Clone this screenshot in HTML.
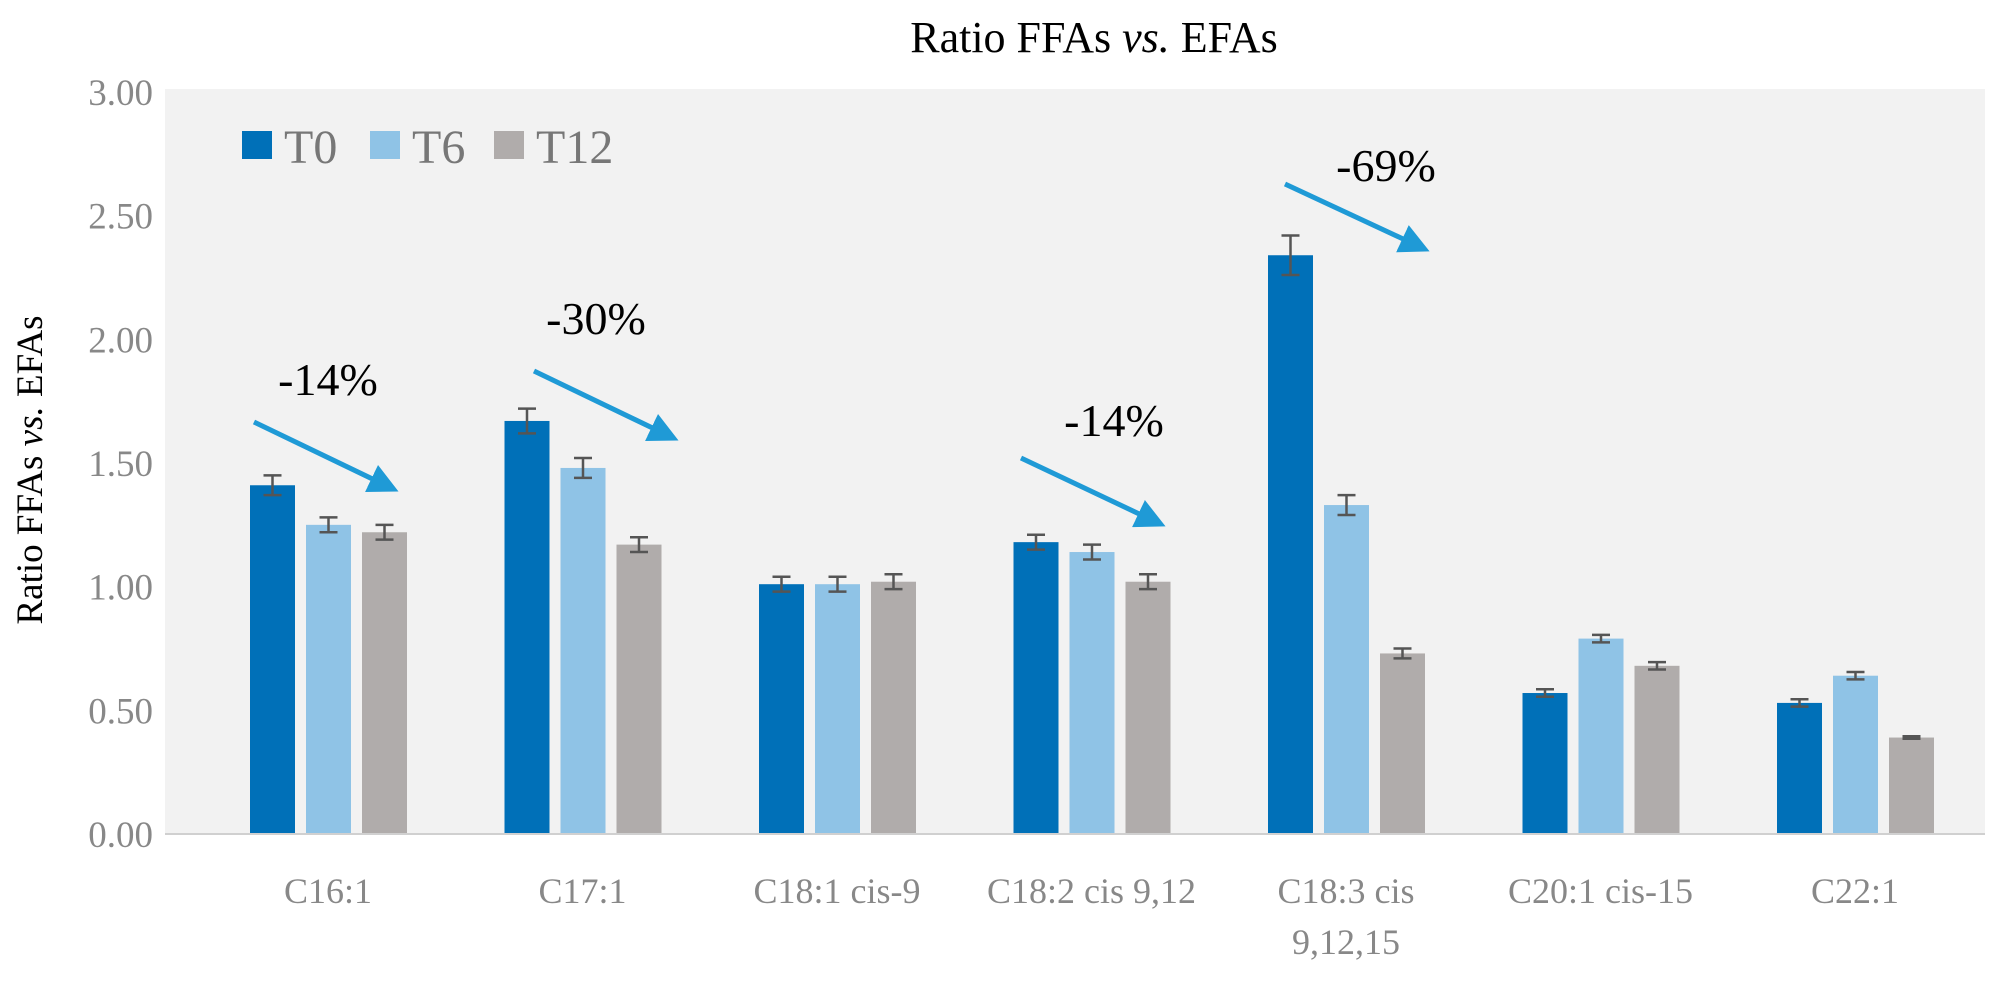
<!DOCTYPE html>
<html><head><meta charset="utf-8"><style>
body{margin:0;background:#fff;}
svg{display:block;font-family:"Liberation Serif",serif;}
</style></head><body>
<svg id="chart" width="1997" height="981" xmlns="http://www.w3.org/2000/svg">
<defs><marker id="ah" markerWidth="6" markerHeight="6" refX="3" refY="3" orient="auto" markerUnits="strokeWidth"><path d="M0,0 L6,3 L0,6 z" fill="#1f9ad6"/></marker></defs>
<rect x="165" y="89" width="1820" height="744" fill="#f2f2f2"/>
<text x="1094" y="52" font-size="44" text-anchor="middle" fill="#000">Ratio FFAs <tspan font-style="italic">vs.</tspan> EFAs</text>
<text transform="translate(42,470) rotate(-90)" font-size="37" text-anchor="middle" fill="#000">Ratio FFAs <tspan font-style="italic">vs.</tspan> EFAs</text>
<g id="yticks"></g><g id="bars"></g><g id="xlabels"></g>
<line x1="165" y1="834" x2="1985" y2="834" stroke="#d0d0d0" stroke-width="2"/>
<g>
<rect x="242" y="131" width="30" height="28" fill="#0070b8"/>
<text x="284" y="163" font-size="48" fill="#777">T0</text>
<rect x="370" y="131" width="30" height="28" fill="#8fc3e6"/>
<text x="412" y="163" font-size="48" fill="#777">T6</text>
<rect x="494" y="131" width="30" height="28" fill="#b0acab"/>
<text x="536" y="163" font-size="48" fill="#777">T12</text>
</g>
<g fill="#000" font-size="46" text-anchor="middle">
<line x1="254" y1="422" x2="385" y2="485" stroke="#1f9ad6" stroke-width="5" marker-end="url(#ah)"/>
<text x="328" y="395">-14%</text>
<line x1="534" y1="371" x2="665" y2="434" stroke="#1f9ad6" stroke-width="5" marker-end="url(#ah)"/>
<text x="596" y="334">-30%</text>
<line x1="1021" y1="458" x2="1152" y2="520" stroke="#1f9ad6" stroke-width="5" marker-end="url(#ah)"/>
<text x="1114" y="436">-14%</text>
<line x1="1285" y1="184" x2="1416" y2="245" stroke="#1f9ad6" stroke-width="5" marker-end="url(#ah)"/>
<text x="1386" y="181">-69%</text>
</g>
</svg>
<script>
const categories=[["C16:1"],["C17:1"],["C18:1 cis-9"],["C18:2 cis 9,12"],["C18:3 cis","9,12,15"],["C20:1 cis-15"],["C22:1"]];
const t0=[1.41,1.67,1.01,1.18,2.34,0.57,0.53];
const t6=[1.25,1.48,1.01,1.14,1.33,0.79,0.64];
const t12=[1.22,1.17,1.02,1.02,0.73,0.68,0.39];
const t0Err=[0.04,0.05,0.03,0.03,0.08,0.015,0.015];
const t6Err=[0.03,0.04,0.03,0.03,0.04,0.015,0.015];
const t12Err=[0.03,0.03,0.03,0.03,0.02,0.015,0.005];
const yTicks=["0.00","0.50","1.00","1.50","2.00","2.50","3.00"];
const NS="http://www.w3.org/2000/svg";
const y0=834,yTop=92,yMax=3;
function y(v){return y0-(v/yMax)*(y0-yTop);}
function xc(i){return 328+i*254.5;}
function mk(t,a,p){const e=document.createElementNS(NS,t);for(const k in a)e.setAttribute(k,a[k]);p.appendChild(e);return e;}
const yt=document.getElementById('yticks');
yTicks.forEach(t=>{const e=mk('text',{x:153,y:y(parseFloat(t))+13,'font-size':37,'text-anchor':'end',fill:'#888'},yt);


e.textContent=t;});
const bg=document.getElementById('bars');
const series=[[t0,t0Err,'#0070b8',-78,'t0'],[t6,t6Err,'#8fc3e6',-22,'t6'],[t12,t12Err,'#b0acab',34,'t12']];
categories.forEach((c,i)=>{
 series.forEach(s=>{
  const v=s[0][i],er=s[1][i],x=xc(i)+s[3],w=45;
  const r=mk('rect',{x:x,y:y(v),width:w,height:y0-y(v),fill:s[2]},bg);
  
  
  const cx=x+w/2;
  const g=mk('g',{stroke:'#555','stroke-width':2.5},bg);
  
  
  mk('line',{x1:cx,x2:cx,y1:y(v+er),y2:y(v-er)},g);
  mk('line',{x1:cx-9,x2:cx+9,y1:y(v+er),y2:y(v+er)},g);
  mk('line',{x1:cx-9,x2:cx+9,y1:y(v-er),y2:y(v-er)},g);
 });
 const xl=document.getElementById('xlabels');
 c.forEach((line,j)=>{const t=mk('text',{x:xc(i),y:903+j*51,'font-size':36,'text-anchor':'middle',fill:'#888'},xl);
 
 
 t.textContent=line;});
});
</script>
</body></html>
